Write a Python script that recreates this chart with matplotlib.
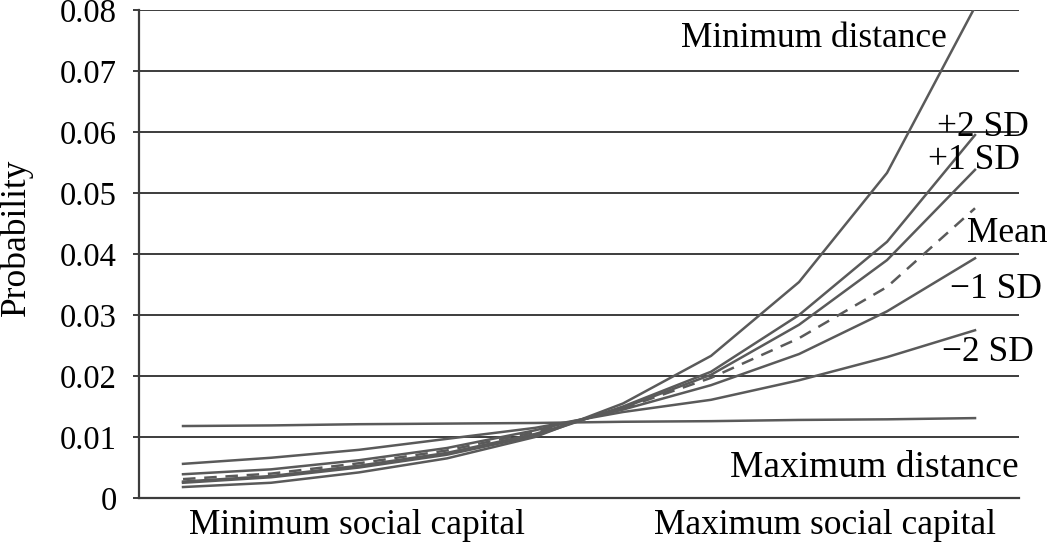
import matplotlib
matplotlib.use("Agg")
import matplotlib.pyplot as plt
import numpy as np

plt.rcParams["font.family"] = ["Liberation Serif", "DejaVu Serif"]

LINE_COL = "#5a5a5a"
GRID_COL = "#3c3c3c"

# probability at ten points along social capital (min -> max)
steps = np.arange(10)
min_dist = [0.0018, 0.0025, 0.0042, 0.0065, 0.0100, 0.0155, 0.0233, 0.0354, 0.0533, 0.0805]
plus2_sd = [0.0025, 0.0034, 0.0050, 0.0071, 0.0102, 0.0150, 0.0207, 0.0300, 0.0420, 0.0595]
plus1_sd = [0.0027, 0.0036, 0.0053, 0.0074, 0.0105, 0.0148, 0.0202, 0.0284, 0.0390, 0.0538]
mean_line = [0.0031, 0.0040, 0.0057, 0.0078, 0.0108, 0.0147, 0.0197, 0.0262, 0.0346, 0.0475]
minus1_sd = [0.0039, 0.0047, 0.0062, 0.0082, 0.0111, 0.0145, 0.0185, 0.0236, 0.0306, 0.0393]
minus2_sd = [0.0056, 0.0066, 0.0079, 0.0097, 0.0115, 0.0141, 0.0161, 0.0193, 0.0231, 0.0275]
max_dist = [0.0118, 0.0119, 0.0121, 0.0122, 0.0123, 0.0125, 0.0126, 0.0128, 0.0129, 0.0131]

x_labels = ["Minimum social capital", "Maximum social capital"]
y_ticks = [0, 0.01, 0.02, 0.03, 0.04, 0.05, 0.06, 0.07, 0.08]
y_tick_labels = ["0", "0.01", "0.02", "0.03", "0.04", "0.05", "0.06", "0.07", "0.08"]

fig = plt.figure(figsize=(10.5, 5.48), dpi=100)
ax = fig.add_axes([0.1324, 0.0912, 0.8381, 0.8906])

for y in y_ticks[1:]:
    ax.axhline(y, color=GRID_COL, lw=1.4, zorder=1)

for series in [min_dist, plus2_sd, plus1_sd, minus1_sd, minus2_sd, max_dist]:
    ax.plot(steps, series, color=LINE_COL, lw=1.8, zorder=3)
ax.plot(steps, mean_line, color=LINE_COL, lw=1.8, ls=(0, (5, 3.5)), zorder=3)

# line labels
fs = 25.5
ax.text(8.68, 0.0754, "Minimum distance", fontsize=fs, ha="right", va="center")
ax.text(8.57, 0.0608, "+2 SD", fontsize=fs, ha="left", va="center", clip_on=False)
ax.text(8.47, 0.0554, "+1 SD", fontsize=fs, ha="left", va="center", clip_on=False)
ax.text(8.91, 0.0434, "Mean", fontsize=fs, ha="left", va="center", clip_on=False)
ax.text(8.72, 0.0341, "\u22121 SD", fontsize=fs, ha="left", va="center", clip_on=False)
ax.text(8.63, 0.0238, "\u22122 SD", fontsize=fs, ha="left", va="center", clip_on=False)
ax.text(6.22, 0.0049, "Maximum distance", fontsize=27, ha="left", va="center",
        clip_on=False)

ax.set_xlim(-0.5, 9.5)
ax.set_ylim(0, 0.08)
ax.set_yticks(y_ticks)
ax.set_yticklabels(y_tick_labels, fontsize=23.5)
ax.set_xticks([1.98, 7.3])
ax.set_xticklabels(x_labels, fontsize=fs)
ax.tick_params(axis="x", length=0, pad=8)
ax.tick_params(axis="y", length=4, width=1.4, color=GRID_COL, pad=12)
ax.set_ylabel("Probability", fontsize=fs)
ax.yaxis.set_label_coords(-0.1205, 0.535)

for side in ["top", "right"]:
    ax.spines[side].set_visible(False)
for side in ["left", "bottom"]:
    ax.spines[side].set_color(GRID_COL)
    ax.spines[side].set_linewidth(1.6)

fig.savefig("out.png", dpi=100)
